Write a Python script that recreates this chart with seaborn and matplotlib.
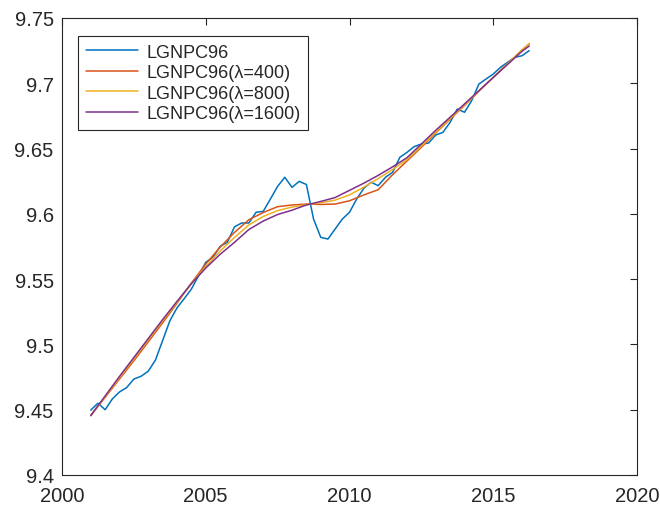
import numpy as np
import pandas as pd
import matplotlib
matplotlib.use("Agg")
import matplotlib.pyplot as plt
import seaborn as sns

# Quarterly log GNP per capita, 2001Q1 - 2016Q2
quarters = [2001.0 + 0.25 * i for i in range(62)]
lgnpc96 = [
    9.4497, 9.4550, 9.4500, 9.4582, 9.4636, 9.4670, 9.4735, 9.4756,
    9.4795, 9.4880, 9.5030, 9.5180, 9.5280, 9.5350, 9.5424, 9.5526,
    9.5629, 9.5667, 9.5751, 9.5782, 9.5901, 9.5930, 9.5930, 9.6012,
    9.6019, 9.6114, 9.6211, 9.6280, 9.6203, 9.6249, 9.6225, 9.5960,
    9.5820, 9.5807, 9.5884, 9.5960, 9.6012, 9.6114, 9.6196, 9.6242,
    9.6216, 9.6280, 9.6318, 9.6433, 9.6471, 9.6515, 9.6535, 9.6542,
    9.6604, 9.6624, 9.6701, 9.6803, 9.6778, 9.6867, 9.6994, 9.7033,
    9.7071, 9.7122, 9.7161, 9.7199, 9.7211, 9.7250,
]

# HP-filter trends, sampled every half year
trend_t = [2001.0 + 0.5 * i for i in range(31)] + [2016.25]
trend_400 = [
    9.4455, 9.4595, 9.4735, 9.4875, 9.5020, 9.5165, 9.5315, 9.5470,
    9.5615, 9.5745, 9.5858, 9.5955, 9.6010, 9.6055, 9.6068, 9.6075,
    9.6072, 9.6075, 9.6100, 9.6145, 9.6185, 9.6300, 9.6405, 9.6510,
    9.6620, 9.6725, 9.6830, 9.6940, 9.7045, 9.7150, 9.7255, 9.7300,
]
trend_800 = [
    9.4455, 9.4600, 9.4745, 9.4890, 9.5035, 9.5180, 9.5322, 9.5468,
    9.5595, 9.5715, 9.5820, 9.5915, 9.5980, 9.6025, 9.6052, 9.6070,
    9.6085, 9.6105, 9.6145, 9.6205, 9.6270, 9.6340, 9.6415, 9.6520,
    9.6625, 9.6730, 9.6835, 9.6940, 9.7045, 9.7150, 9.7255, 9.7305,
]
trend_1600 = [
    9.4455, 9.4605, 9.4755, 9.4900, 9.5045, 9.5190, 9.5330, 9.5465,
    9.5585, 9.5690, 9.5782, 9.5880, 9.5945, 9.5995, 9.6028, 9.6068,
    9.6095, 9.6125, 9.6180, 9.6235, 9.6295, 9.6360, 9.6430, 9.6535,
    9.6640, 9.6740, 9.6842, 9.6943, 9.7045, 9.7145, 9.7245, 9.7285,
]

labels = ["LGNPC96", "LGNPC96(λ=400)", "LGNPC96(λ=800)", "LGNPC96(λ=1600)"]
colors = ["#0072BD", "#D95319", "#EDB120", "#7E2F8E"]

frames = [
    pd.DataFrame({"t": quarters, "v": lgnpc96, "series": labels[0]}),
    pd.DataFrame({"t": trend_t, "v": trend_400, "series": labels[1]}),
    pd.DataFrame({"t": trend_t, "v": trend_800, "series": labels[2]}),
    pd.DataFrame({"t": trend_t, "v": trend_1600, "series": labels[3]}),
]
df = pd.concat(frames, ignore_index=True)

sns.set_style("white")
plt.rcParams["font.family"] = ["Liberation Sans", "DejaVu Sans"]

fig = plt.figure(figsize=(6.6, 5.06), dpi=100)
ax = fig.add_axes([62 / 660, 1 - 476 / 506, 575 / 660, 457 / 506])

sns.lineplot(data=df, x="t", y="v", hue="series", hue_order=labels,
             palette=colors, sort=False, estimator=None, linewidth=1.1,
             ax=ax)

ax.set_xlim(2000, 2020)
ax.set_ylim(9.4, 9.75)
ax.set_xticks([2000, 2005, 2010, 2015, 2020])
yt = [9.4, 9.45, 9.5, 9.55, 9.6, 9.65, 9.7, 9.75]
ax.set_yticks(yt)
ax.set_yticklabels([f"{v:g}" for v in yt])
ax.set_xlabel("")
ax.set_ylabel("")

edge = "#262626"
for s in ax.spines.values():
    s.set_visible(True)
    s.set_color(edge)
    s.set_linewidth(0.8)
ax.tick_params(direction="in", top=True, right=True, length=5, width=0.8,
               colors=edge, labelsize=14.5, labelcolor="#262626")
ax.tick_params(axis="x", pad=8)
ax.tick_params(axis="y", pad=6)

handles, _ = ax.get_legend_handles_labels()
leg = ax.legend(handles, labels, loc="upper left",
                bbox_to_anchor=(16 / 575, 1 - 18 / 457), borderaxespad=0,
                fontsize=13, frameon=True, fancybox=False, framealpha=1,
                edgecolor=edge, handlelength=2.9, handletextpad=0.45,
                labelspacing=0.2, borderpad=0.42)
leg.get_frame().set_linewidth(0.8)

fig.savefig("out.png", dpi=100)
